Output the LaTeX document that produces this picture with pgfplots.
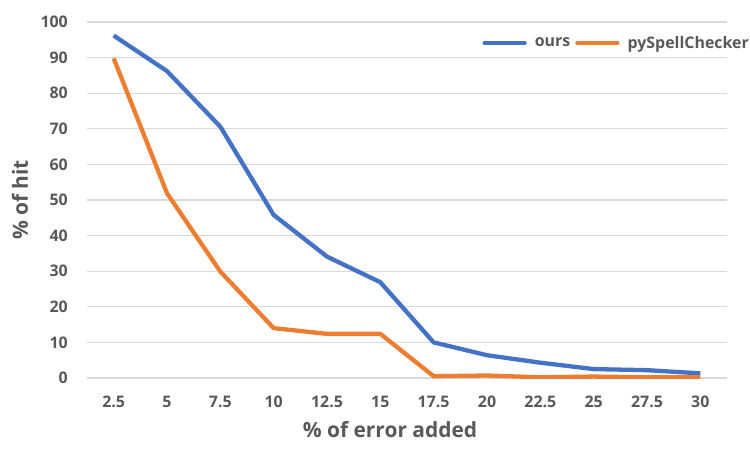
\documentclass[border=0pt]{standalone}
\usepackage{pgfplots}
\pgfplotsset{compat=1.18}
\usepackage{fontspec}
\setmainfont{Open Sans}
\definecolor{txt}{HTML}{595959}
\definecolor{gridc}{HTML}{D9D9D9}
\definecolor{cblue}{HTML}{4472C4}
\definecolor{corange}{HTML}{ED7D31}
\begin{document}
\begin{tikzpicture}
\path[use as bounding box] (-87bp,-71bp) rectangle (663bp,378bp);
\begin{axis}[
  at={(0,0)}, anchor=south west,
  scale only axis, width=640bp, height=356bp,
  xmin=-0.5, xmax=11.5, ymin=0, ymax=100,
  xtick={0,...,11},
  xticklabels={2.5,5,7.5,10,12.5,15,17.5,20,22.5,25,27.5,30},
  ytick={0,10,...,100},
  axis line style={draw=none}, major tick length=0pt,
  ymajorgrids, grid style={draw=gridc, line width=1.3bp},
  /pgf/number format/assume math mode=true,
  tick label style={font=\fontsize{16}{16}\selectfont\bfseries, text=txt, inner sep=0pt},
  yticklabel style={anchor=east, xshift=-19bp},
  xticklabel style={anchor=center, yshift=-24bp},
  xlabel={\% of error added},
  ylabel={\% of hit},
  label style={font=\fontsize{21}{21}\selectfont\bfseries, text=txt, inner sep=0pt},
  xlabel style={at={(rel axis cs:0.4735,0)}, anchor=center, yshift=-52bp},
  ylabel style={at={(rel axis cs:0,0.5)}, anchor=center, yshift=67bp},
  legend columns=2,
  legend style={at={(rel axis cs:0.6176,0.941)}, anchor=west, draw=none, fill=none,
    font=\fontsize{16}{16}\selectfont\bfseries, text=txt, inner sep=0pt,
    /tikz/every even column/.append style={column sep=3bp},
    /tikz/every odd column/.append style={column sep=6bp}},
  legend image code/.code={\draw[#1, line width=4.3bp, line cap=round] (0bp,0bp) -- (40bp,0bp);},
  every axis plot/.append style={line width=4.3bp, line join=round},
]
\addplot[cblue] coordinates {(0,96.2) (1,86.2) (2,70.6) (3,45.8) (4,34.1) (5,26.9) (6,10.0) (7,6.4) (8,4.3) (9,2.5) (10,2.2) (11,1.3)};
\addlegendentry{ours}
\addplot[corange] coordinates {(0,89.8) (1,51.9) (2,29.9) (3,14.0) (4,12.4) (5,12.4) (6,0.5) (7,0.7) (8,0.2) (9,0.4) (10,0.2) (11,0.2)};
\addlegendentry{pySpellChecker}
\end{axis}
\end{tikzpicture}
\end{document}
